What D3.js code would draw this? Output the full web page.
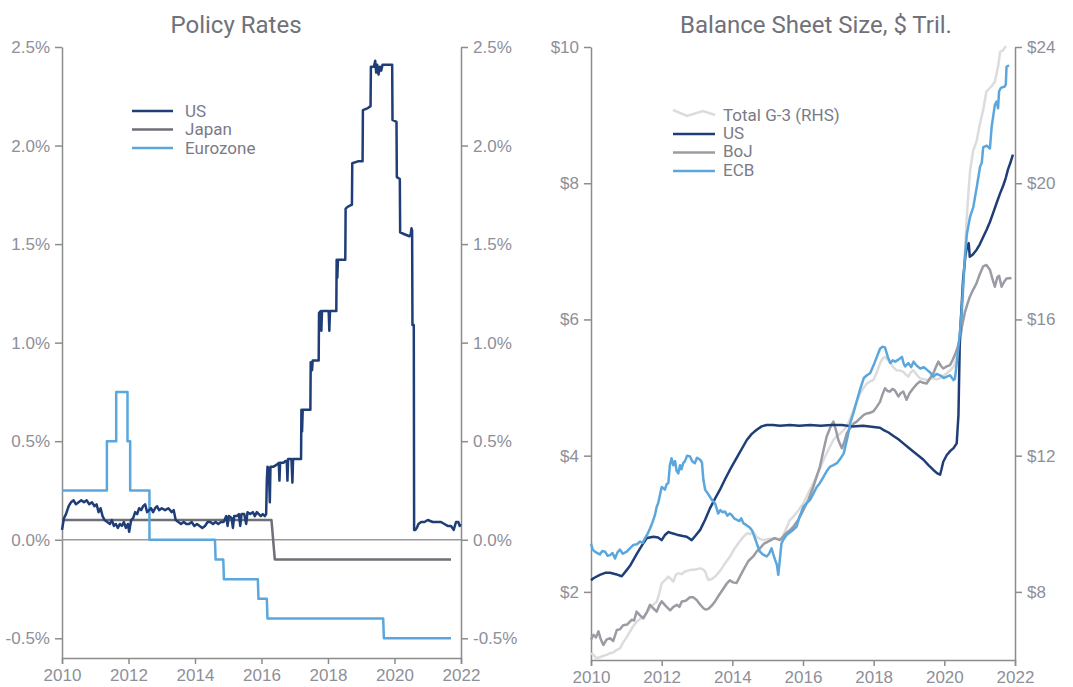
<!DOCTYPE html>
<html>
<head>
<meta charset="utf-8">
<script src="https://cdn.jsdelivr.net/npm/d3@7"></script>
<style>
  body { margin: 0; background: #fff; }
  svg { font-family: Roboto, "DejaVu Sans", sans-serif; }
  .axis path, .axis line { stroke: #8c8c8c; stroke-width: 1.5px; }
  .axis text { fill: #8e8f99; font-size: 17px; }
  .title { fill: #70717a; font-size: 24px; }
  .legend text { fill: #7a7b85; font-size: 17px; }
</style>
</head>
<body>
<svg width="1073" height="687"></svg>
<script>
// ---- policy rates (%), [year, value]
const usRate = [
  [2010.00,0.05],[2010.06,0.11],[2010.12,0.13],[2010.20,0.17],[2010.27,0.19],[2010.35,0.20],[2010.42,0.18],[2010.50,0.19],
  [2010.58,0.20],[2010.66,0.19],[2010.74,0.20],[2010.82,0.18],[2010.90,0.19],[2010.98,0.17],[2011.04,0.18],[2011.10,0.14],
  [2011.16,0.16],[2011.22,0.12],[2011.28,0.10],[2011.36,0.09],[2011.44,0.08],[2011.50,0.10],[2011.56,0.07],[2011.62,0.08],
  [2011.68,0.06],[2011.74,0.08],[2011.80,0.07],[2011.86,0.09],[2011.92,0.06],[2011.98,0.08],[2012.02,0.04],[2012.08,0.10],
  [2012.14,0.11],[2012.20,0.14],[2012.26,0.13],[2012.32,0.16],[2012.38,0.15],[2012.44,0.17],[2012.50,0.18],[2012.56,0.14],
  [2012.62,0.15],[2012.68,0.16],[2012.74,0.14],[2012.80,0.16],[2012.86,0.17],[2012.92,0.15],[2013.00,0.16],[2013.10,0.15],
  [2013.20,0.16],[2013.30,0.14],[2013.36,0.15],[2013.42,0.10],[2013.50,0.09],[2013.58,0.08],[2013.66,0.09],[2013.74,0.08],
  [2013.82,0.08],[2013.90,0.09],[2013.98,0.07],[2014.06,0.08],[2014.14,0.07],[2014.22,0.06],[2014.30,0.07],[2014.38,0.09],
  [2014.46,0.09],[2014.54,0.08],[2014.62,0.09],[2014.70,0.08],[2014.78,0.09],[2014.86,0.09],[2014.94,0.12],[2014.98,0.07],
  [2015.02,0.12],[2015.10,0.11],[2015.14,0.06],[2015.18,0.12],[2015.26,0.12],[2015.32,0.13],[2015.36,0.07],[2015.40,0.13],
  [2015.48,0.13],[2015.54,0.08],[2015.58,0.14],[2015.66,0.13],[2015.74,0.14],[2015.80,0.12],[2015.86,0.14],[2015.92,0.13],
  [2015.98,0.12],[2016.04,0.13],[2016.10,0.12],[2016.14,0.13],[2016.16,0.30],[2016.18,0.37],[2016.22,0.36],[2016.25,0.19],
  [2016.27,0.37],[2016.35,0.37],[2016.45,0.38],[2016.52,0.39],[2016.54,0.30],[2016.56,0.39],[2016.66,0.39],[2016.72,0.40],
  [2016.76,0.40],[2016.78,0.30],[2016.80,0.41],[2016.90,0.41],[2016.93,0.29],[2016.95,0.41],[2017.05,0.41],[2017.19,0.41],
  [2017.20,0.66],[2017.22,0.55],[2017.24,0.66],[2017.47,0.66],[2017.48,0.90],[2017.52,0.86],[2017.54,0.91],[2017.72,0.91],
  [2017.73,1.15],[2017.78,1.16],[2017.80,1.06],[2017.82,1.16],[2018.02,1.16],[2018.04,1.06],[2018.06,1.16],[2018.25,1.16],
  [2018.26,1.42],[2018.28,1.33],[2018.30,1.42],[2018.52,1.42],[2018.53,1.68],[2018.60,1.69],[2018.72,1.70],[2018.73,1.91],
  [2018.90,1.92],[2019.04,1.92],[2019.05,2.18],[2019.20,2.19],[2019.28,2.20],[2019.29,2.40],[2019.38,2.40],[2019.42,2.43],
  [2019.45,2.37],[2019.48,2.41],[2019.52,2.36],[2019.56,2.40],[2019.60,2.38],[2019.64,2.41],[2019.93,2.41],[2019.94,2.13],
  [2020.06,2.12],[2020.07,1.84],[2020.16,1.83],[2020.17,1.56],[2020.30,1.55],[2020.45,1.54],[2020.49,1.55],[2020.51,1.58],
  [2020.53,1.57],[2020.54,1.09],[2020.58,1.09],[2020.59,0.05],[2020.63,0.05],[2020.67,0.06],[2020.72,0.08],[2020.80,0.09],
  [2020.90,0.09],[2021.00,0.10],[2021.15,0.09],[2021.30,0.09],[2021.40,0.09],[2021.50,0.08],[2021.60,0.07],[2021.70,0.07],
  [2021.78,0.05],[2021.85,0.09],[2021.92,0.09],[2021.96,0.07],[2021.99,0.08]
];
const japanRate = [[2010.00,0.10],[2016.30,0.10],[2016.40,-0.10],[2021.70,-0.10]];
const euroRate = [
  [2010.00,0.25],[2011.35,0.25],[2011.35,0.50],[2011.63,0.50],[2011.63,0.75],[2011.97,0.75],[2011.97,0.50],[2012.05,0.50],
  [2012.05,0.25],[2012.63,0.25],[2012.63,0.00],[2014.60,0.00],[2014.62,-0.10],[2014.85,-0.10],[2014.87,-0.20],[2015.89,-0.20],
  [2015.91,-0.30],[2016.16,-0.30],[2016.18,-0.40],[2019.66,-0.40],[2019.68,-0.50],[2021.70,-0.50]
];

// ---- balance sheets ($ tril.), [year, value]
const fedBS = [
  [2010.00,2.17],[2010.07,2.20],[2010.25,2.25],[2010.40,2.28],[2010.54,2.28],[2010.70,2.26],[2010.87,2.23],[2011.01,2.32],
  [2011.10,2.38],[2011.20,2.47],[2011.30,2.56],[2011.39,2.64],[2011.50,2.73],[2011.58,2.79],[2011.77,2.81],[2011.90,2.80],
  [2012.00,2.76],[2012.10,2.84],[2012.19,2.88],[2012.30,2.86],[2012.43,2.84],[2012.60,2.82],[2012.71,2.81],[2012.85,2.76],
  [2012.95,2.82],[2013.09,2.91],[2013.23,3.06],[2013.37,3.23],[2013.51,3.37],[2013.65,3.50],[2013.79,3.65],[2013.93,3.79],
  [2014.05,3.90],[2014.17,4.01],[2014.29,4.12],[2014.41,4.23],[2014.55,4.32],[2014.69,4.38],[2014.83,4.43],[2014.97,4.45],
  [2015.15,4.45],[2015.35,4.44],[2015.63,4.45],[2015.90,4.44],[2016.20,4.45],[2016.50,4.44],[2016.80,4.45],[2017.10,4.45],
  [2017.40,4.43],[2017.70,4.44],[2018.00,4.42],[2018.18,4.41],[2018.27,4.38],[2018.42,4.34],[2018.56,4.29],[2018.70,4.24],
  [2018.84,4.18],[2018.98,4.12],[2019.12,4.06],[2019.27,4.00],[2019.41,3.94],[2019.55,3.86],[2019.69,3.79],[2019.80,3.74],
  [2019.88,3.72],[2019.92,3.80],[2019.97,3.91],[2020.07,4.01],[2020.17,4.07],[2020.26,4.11],[2020.35,4.18],[2020.40,4.60],
  [2020.44,5.75],[2020.49,6.20],[2020.53,6.58],[2020.60,6.95],[2020.65,7.09],[2020.69,7.12],[2020.72,6.92],[2020.80,6.95],
  [2020.91,7.02],[2021.00,7.10],[2021.10,7.21],[2021.20,7.32],[2021.29,7.43],[2021.38,7.56],[2021.48,7.71],[2021.57,7.84],
  [2021.67,7.97],[2021.74,8.08],[2021.80,8.20],[2021.87,8.30],[2021.94,8.42]
];
const bojBS = [
  [2010.00,1.30],[2010.07,1.37],[2010.14,1.33],[2010.21,1.42],[2010.28,1.30],[2010.35,1.22],[2010.44,1.30],[2010.54,1.32],
  [2010.63,1.28],[2010.73,1.44],[2010.82,1.45],[2010.91,1.51],[2011.02,1.52],[2011.15,1.59],[2011.22,1.58],[2011.29,1.71],
  [2011.38,1.66],[2011.48,1.61],[2011.58,1.70],[2011.67,1.81],[2011.76,1.76],[2011.86,1.71],[2011.93,1.80],[2012.00,1.86],
  [2012.12,1.79],[2012.24,1.73],[2012.33,1.78],[2012.43,1.81],[2012.50,1.78],[2012.57,1.86],[2012.68,1.87],[2012.80,1.92],
  [2012.90,1.92],[2012.99,1.88],[2013.08,1.82],[2013.18,1.76],[2013.25,1.74],[2013.32,1.75],[2013.42,1.80],[2013.51,1.86],
  [2013.62,1.95],[2013.75,2.05],[2013.84,2.12],[2013.93,2.17],[2014.02,2.14],[2014.12,2.13],[2014.21,2.22],[2014.31,2.32],
  [2014.45,2.45],[2014.59,2.52],[2014.70,2.60],[2014.78,2.64],[2014.90,2.71],[2015.05,2.75],[2015.20,2.79],[2015.35,2.76],
  [2015.50,2.85],[2015.62,2.90],[2015.73,2.96],[2015.87,3.06],[2016.01,3.20],[2016.15,3.35],[2016.29,3.54],[2016.39,3.70],
  [2016.48,3.84],[2016.58,4.08],[2016.67,4.28],[2016.76,4.40],[2016.86,4.50],[2016.93,4.38],[2017.00,4.23],[2017.10,4.11],
  [2017.17,4.20],[2017.24,4.33],[2017.33,4.40],[2017.43,4.47],[2017.52,4.50],[2017.62,4.55],[2017.72,4.60],[2017.81,4.62],
  [2017.90,4.63],[2017.99,4.65],[2018.09,4.72],[2018.18,4.79],[2018.25,4.90],[2018.32,4.99],[2018.39,4.95],[2018.46,4.94],
  [2018.53,4.98],[2018.60,4.96],[2018.70,4.87],[2018.77,4.92],[2018.84,4.94],[2018.93,4.82],[2019.02,4.92],[2019.12,4.99],
  [2019.22,5.05],[2019.31,5.09],[2019.40,5.07],[2019.50,5.06],[2019.60,5.14],[2019.69,5.21],[2019.76,5.30],[2019.83,5.38],
  [2019.90,5.32],[2019.97,5.28],[2020.07,5.31],[2020.16,5.33],[2020.23,5.40],[2020.30,5.48],[2020.37,5.58],[2020.44,5.72],
  [2020.50,5.90],[2020.58,6.10],[2020.65,6.22],[2020.72,6.33],[2020.80,6.42],[2020.91,6.53],[2021.00,6.66],[2021.10,6.78],
  [2021.19,6.80],[2021.29,6.73],[2021.36,6.60],[2021.43,6.48],[2021.50,6.62],[2021.55,6.64],[2021.62,6.48],[2021.69,6.55],
  [2021.76,6.60],[2021.90,6.61]
];
const ecbBS = [
  [2010.00,2.71],[2010.05,2.62],[2010.11,2.59],[2010.18,2.57],[2010.25,2.55],[2010.32,2.60],[2010.40,2.59],[2010.47,2.53],
  [2010.54,2.54],[2010.61,2.57],[2010.68,2.49],[2010.75,2.58],[2010.82,2.62],[2010.90,2.56],[2011.01,2.59],[2011.10,2.64],
  [2011.20,2.69],[2011.30,2.70],[2011.39,2.74],[2011.46,2.72],[2011.53,2.79],[2011.60,2.85],[2011.67,2.93],[2011.74,3.02],
  [2011.81,3.13],[2011.86,3.25],[2011.90,3.30],[2011.95,3.42],[2012.00,3.54],[2012.05,3.52],[2012.09,3.50],[2012.14,3.58],
  [2012.19,3.60],[2012.23,3.85],[2012.28,3.96],[2012.33,3.86],[2012.38,3.92],[2012.42,3.78],[2012.47,3.74],[2012.52,3.86],
  [2012.56,3.80],[2012.61,3.89],[2012.66,3.92],[2012.72,4.00],[2012.80,3.99],[2012.86,3.92],[2012.94,3.89],[2013.00,3.97],
  [2013.09,3.94],[2013.14,3.90],[2013.18,3.65],[2013.23,3.50],[2013.30,3.45],[2013.36,3.40],[2013.42,3.35],[2013.51,3.30],
  [2013.56,3.22],[2013.60,3.15],[2013.66,3.20],[2013.72,3.17],[2013.79,3.18],[2013.86,3.12],[2013.92,3.15],[2013.98,3.13],
  [2014.05,3.08],[2014.12,3.06],[2014.20,3.04],[2014.25,3.08],[2014.31,3.01],[2014.40,2.98],[2014.50,2.94],[2014.56,2.90],
  [2014.64,2.79],[2014.70,2.70],[2014.78,2.59],[2014.86,2.55],[2014.97,2.52],[2015.04,2.56],[2015.11,2.64],[2015.16,2.55],
  [2015.21,2.47],[2015.26,2.40],[2015.30,2.25],[2015.34,2.45],[2015.39,2.71],[2015.46,2.78],[2015.54,2.84],[2015.62,2.87],
  [2015.70,2.90],[2015.82,2.96],[2015.90,3.10],[2016.01,3.25],[2016.10,3.30],[2016.20,3.35],[2016.30,3.45],[2016.39,3.54],
  [2016.48,3.60],[2016.58,3.69],[2016.68,3.78],[2016.77,3.84],[2016.86,3.86],[2016.96,3.89],[2017.05,3.95],[2017.15,4.03],
  [2017.25,4.25],[2017.34,4.48],[2017.44,4.65],[2017.53,4.82],[2017.62,4.98],[2017.72,5.14],[2017.81,5.18],[2017.90,5.21],
  [2018.00,5.33],[2018.09,5.45],[2018.18,5.57],[2018.25,5.60],[2018.32,5.59],[2018.40,5.45],[2018.47,5.36],[2018.54,5.40],
  [2018.61,5.38],[2018.70,5.41],[2018.80,5.45],[2018.85,5.35],[2018.89,5.31],[2018.98,5.36],[2019.06,5.30],[2019.13,5.38],
  [2019.22,5.32],[2019.32,5.28],[2019.42,5.30],[2019.51,5.26],[2019.60,5.22],[2019.69,5.16],[2019.78,5.20],[2019.88,5.18],
  [2019.98,5.14],[2020.07,5.16],[2020.16,5.18],[2020.26,5.11],[2020.30,5.13],[2020.35,5.35],[2020.40,5.60],[2020.44,5.80],
  [2020.48,6.05],[2020.52,6.38],[2020.58,6.90],[2020.64,7.26],[2020.73,7.51],[2020.82,7.65],[2020.92,7.95],[2021.01,8.24],
  [2021.06,8.30],[2021.10,8.53],[2021.20,8.55],[2021.29,8.51],[2021.34,8.83],[2021.43,9.15],[2021.48,9.20],[2021.52,9.10],
  [2021.55,9.35],[2021.60,9.40],[2021.71,9.42],[2021.74,9.45],[2021.76,9.71],[2021.83,9.73]
];
const totalG3 = [
  [2010.00,6.20],[2010.07,6.15],[2010.15,6.05],[2010.25,6.08],[2010.35,6.12],[2010.44,6.15],[2010.54,6.20],[2010.63,6.22],
  [2010.73,6.30],[2010.82,6.34],[2010.90,6.50],[2010.96,6.59],[2011.03,6.70],[2011.10,6.83],[2011.20,7.00],[2011.29,7.12],
  [2011.38,7.20],[2011.48,7.27],[2011.58,7.40],[2011.67,7.52],[2011.76,7.62],[2011.86,7.71],[2011.93,7.95],[2012.00,8.25],
  [2012.10,8.35],[2012.19,8.45],[2012.26,8.38],[2012.33,8.30],[2012.40,8.50],[2012.47,8.55],[2012.56,8.52],[2012.66,8.60],
  [2012.80,8.64],[2012.95,8.66],[2013.09,8.69],[2013.17,8.66],[2013.23,8.60],[2013.28,8.45],[2013.32,8.35],[2013.42,8.38],
  [2013.51,8.45],[2013.60,8.55],[2013.70,8.69],[2013.80,8.85],[2013.93,9.03],[2014.05,9.25],[2014.17,9.43],[2014.30,9.60],
  [2014.41,9.72],[2014.50,9.70],[2014.60,9.75],[2014.70,9.60],[2014.80,9.55],[2014.88,9.52],[2015.00,9.55],[2015.16,9.57],
  [2015.30,9.55],[2015.40,9.57],[2015.50,9.80],[2015.63,10.11],[2015.73,10.21],[2015.87,10.40],[2016.01,10.60],[2016.15,10.90],
  [2016.29,11.19],[2016.44,11.52],[2016.58,11.87],[2016.72,12.18],[2016.86,12.46],[2016.96,12.58],[2017.05,12.65],[2017.15,12.75],
  [2017.24,12.85],[2017.34,13.10],[2017.43,13.34],[2017.53,13.60],[2017.62,13.83],[2017.72,14.00],[2017.81,14.12],[2017.90,14.18],
  [2017.99,14.22],[2018.09,14.45],[2018.18,14.71],[2018.25,14.85],[2018.32,14.90],[2018.39,14.82],[2018.46,14.75],[2018.55,14.60],
  [2018.65,14.51],[2018.75,14.50],[2018.84,14.46],[2018.91,14.38],[2018.98,14.32],[2019.05,14.45],[2019.12,14.51],[2019.22,14.38],
  [2019.31,14.27],[2019.40,14.25],[2019.50,14.22],[2019.60,14.25],[2019.69,14.27],[2019.78,14.24],[2019.88,14.27],[2019.97,14.35],
  [2020.07,14.42],[2020.16,14.50],[2020.26,14.61],[2020.33,14.80],[2020.40,15.10],[2020.47,15.40],[2020.54,16.96],[2020.58,17.90],
  [2020.63,18.92],[2020.68,19.70],[2020.73,20.39],[2020.82,20.97],[2020.91,21.22],[2021.01,21.76],[2021.10,22.15],[2021.19,22.69],
  [2021.33,22.84],[2021.43,22.98],[2021.52,23.42],[2021.58,23.86],[2021.67,23.91],[2021.72,24.00],[2021.76,24.00]
];

// ---- ticks
const yearTicks = [2010, 2012, 2014, 2016, 2018, 2020, 2022];
const rateTicks = [-0.5, 0, 0.5, 1, 1.5, 2, 2.5];
const rateLabels = ["-0.5%", "0.0%", "0.5%", "1.0%", "1.5%", "2.0%", "2.5%"];
const bsTicks = [2, 4, 6, 8, 10];
const bsLabels = ["$2", "$4", "$6", "$8", "$10"];
const totalTicks = [8, 12, 16, 20, 24];
const totalLabels = ["$8", "$12", "$16", "$20", "$24"];

const navy = "#1f3e77", lightBlue = "#5ba7dd", darkGray = "#6e6f77", midGray = "#9b9ba3", paleGray = "#dcdcdc";

const svg = d3.select("svg");

function fmt(ticks, labels) { return d => labels[ticks.indexOf(d)]; }

// ================= left: policy rates
{
  const x = d3.scaleLinear().domain([2010, 2022]).range([62, 461]);
  const y = d3.scaleLinear().domain([-0.6, 2.5]).range([658, 47]);
  const g = svg.append("g");

  g.append("text").attr("class", "title").attr("x", 236).attr("y", 33)
    .attr("text-anchor", "middle").text("Policy Rates");

  g.append("g").attr("class", "axis").attr("transform", "translate(0,658)")
    .call(d3.axisBottom(x).tickValues(yearTicks).tickFormat(d3.format("d")).tickSize(6).tickPadding(5));
  g.append("g").attr("class", "axis").attr("transform", "translate(62,0)")
    .call(d3.axisLeft(y).tickValues(rateTicks).tickFormat(fmt(rateTicks, rateLabels)).tickSize(7).tickPadding(5).tickSizeOuter(0));
  g.append("g").attr("class", "axis").attr("transform", "translate(461,0)")
    .call(d3.axisRight(y).tickValues(rateTicks).tickFormat(fmt(rateTicks, rateLabels)).tickSize(7).tickPadding(5).tickSizeOuter(0));

  g.append("line").attr("x1", x(2010)).attr("x2", x(2022)).attr("y1", y(0)).attr("y2", y(0))
    .attr("stroke", "#9a9a9a").attr("stroke-width", 1.5);

  const line = d3.line().x(d => x(d[0])).y(d => y(d[1]));
  [[japanRate, darkGray], [euroRate, lightBlue], [usRate, navy]].forEach(([data, c]) => {
    g.append("path").datum(data).attr("d", line).attr("fill", "none")
      .attr("stroke", c).attr("stroke-width", 2.5).attr("stroke-linejoin", "round");
  });

  const items = [["US", navy], ["Japan", darkGray], ["Eurozone", lightBlue]];
  const lg = g.append("g").attr("class", "legend");
  items.forEach(([name, c], i) => {
    const yy = 111 + i * 18.5;
    lg.append("line").attr("x1", 132).attr("x2", 173).attr("y1", yy).attr("y2", yy)
      .attr("stroke", c).attr("stroke-width", 2.5);
    lg.append("text").attr("x", 185).attr("y", yy).attr("dy", "0.35em").text(name);
  });
}

// ================= right: balance sheets
{
  const x = d3.scaleLinear().domain([2010, 2022]).range([591, 1015]);
  const y = d3.scaleLinear().domain([1, 10]).range([660, 47]);
  const y2 = d3.scaleLinear().domain([6, 24]).range([660, 47]);
  const g = svg.append("g");

  g.append("text").attr("class", "title").attr("x", 816).attr("y", 33)
    .attr("text-anchor", "middle").text("Balance Sheet Size, $ Tril.");

  g.append("g").attr("class", "axis").attr("transform", "translate(0,660)")
    .call(d3.axisBottom(x).tickValues(yearTicks).tickFormat(d3.format("d")).tickSize(6).tickPadding(5));
  g.append("g").attr("class", "axis").attr("transform", "translate(591,0)")
    .call(d3.axisLeft(y).tickValues(bsTicks).tickFormat(fmt(bsTicks, bsLabels)).tickSize(7).tickPadding(5).tickSizeOuter(0));
  g.append("g").attr("class", "axis").attr("transform", "translate(1015,0)")
    .call(d3.axisRight(y2).tickValues(totalTicks).tickFormat(fmt(totalTicks, totalLabels)).tickSize(7).tickPadding(5).tickSizeOuter(0));

  const line = d3.line().x(d => x(d[0])).y(d => y(d[1]));
  const line2 = d3.line().x(d => x(d[0])).y(d => y2(d[1]));
  g.append("path").datum(totalG3).attr("d", line2).attr("fill", "none")
    .attr("stroke", paleGray).attr("stroke-width", 2.5).attr("stroke-linejoin", "round");
  [[bojBS, midGray], [fedBS, navy], [ecbBS, lightBlue]].forEach(([data, c]) => {
    g.append("path").datum(data).attr("d", line).attr("fill", "none")
      .attr("stroke", c).attr("stroke-width", 2.5).attr("stroke-linejoin", "round");
  });

  const lg = g.append("g").attr("class", "legend");
  lg.append("path").attr("d", "M673,110 L687,116 L703,111 L715,115").attr("fill", "none")
    .attr("stroke", paleGray).attr("stroke-width", 2.5);
  lg.append("text").attr("x", 723).attr("y", 115).attr("dy", "0.35em").text("Total G-3 (RHS)");
  const items = [["US", navy], ["BoJ", midGray], ["ECB", lightBlue]];
  items.forEach(([name, c], i) => {
    const yy = 134 + i * 18.5;
    lg.append("line").attr("x1", 673).attr("x2", 715).attr("y1", yy).attr("y2", yy)
      .attr("stroke", c).attr("stroke-width", 2.5);
    lg.append("text").attr("x", 723).attr("y", yy - 1).attr("dy", "0.35em").text(name);
  });
}
</script>
</body>
</html>
